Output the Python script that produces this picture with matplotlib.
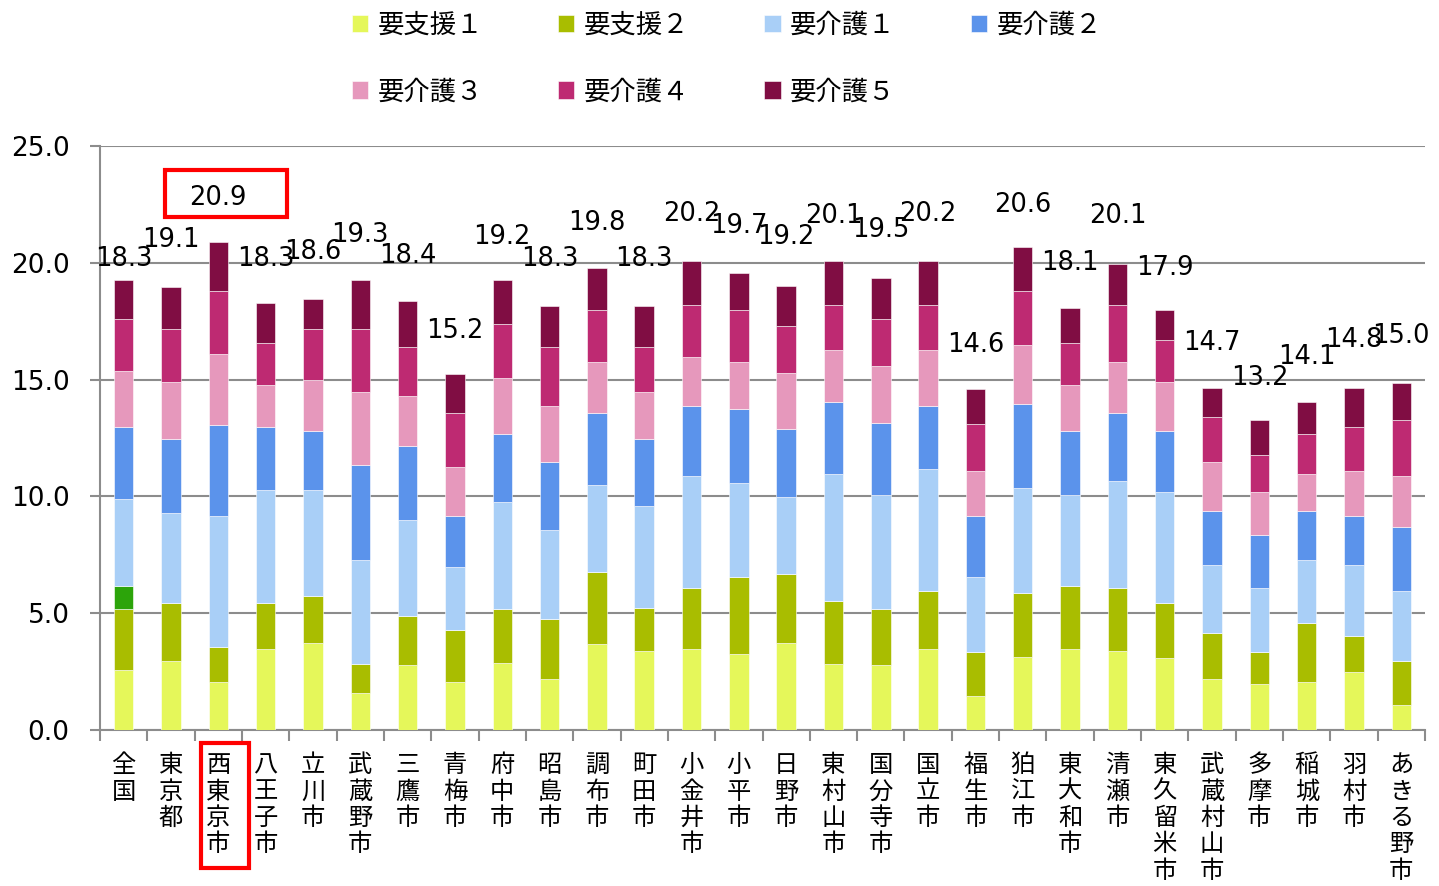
import matplotlib
matplotlib.use("Agg")
import matplotlib.pyplot as plt
import numpy as np
from matplotlib.patches import Rectangle

plt.rcParams['font.family'] = ['DejaVu Sans', 'Noto Sans CJK JP']

categories = ["全国", "東京都", "西東京市", "八王子市", "立川市", "武蔵野市", "三鷹市",
              "青梅市", "府中市", "昭島市", "調布市", "町田市", "小金井市", "小平市",
              "日野市", "東村山市", "国分寺市", "国立市", "福生市", "狛江市", "東大和市",
              "清瀬市", "東久留米市", "武蔵村山市", "多摩市", "稲城市", "羽村市", "あきる野市"]

series_names = ["要支援１", "要支援２", "要介護１", "要介護２", "要介護３", "要介護４", "要介護５"]

shien1 = [2.57, 2.97, 2.07, 3.47, 3.74, 1.57, 2.77, 2.07, 2.87, 2.17, 3.67, 3.37, 3.47, 3.26,
          3.74, 2.84, 2.77, 3.47, 1.47, 3.14, 3.47, 3.37, 3.07, 2.17, 1.97, 2.07, 2.47, 1.07]
shien2 = [2.59, 2.47, 1.47, 1.97, 2.00, 1.27, 2.11, 2.19, 2.29, 2.57, 3.09, 1.87, 2.59, 3.30,
          2.92, 2.70, 2.39, 2.48, 1.87, 2.71, 2.68, 2.69, 2.37, 1.99, 1.37, 2.49, 1.57, 1.87]
# extra highlighted piece shown only on the 全国 bar
shien2_extra = [1.00] + [0.0] * 27
kaigo1 = [3.71, 3.83, 5.63, 4.83, 4.53, 4.44, 4.12, 2.70, 4.61, 3.83, 3.71, 4.33, 4.81, 4.01,
          3.31, 5.43, 4.91, 5.22, 3.22, 4.52, 3.92, 4.61, 4.73, 2.90, 2.72, 2.70, 3.02, 3.02]
kaigo2 = [3.11, 3.20, 3.89, 2.71, 2.51, 4.08, 3.17, 2.21, 2.91, 2.90, 3.11, 2.90, 3.01, 3.17,
          2.91, 3.07, 3.09, 2.71, 2.61, 3.59, 2.71, 2.91, 2.61, 2.31, 2.29, 2.11, 2.11, 2.71]
kaigo3 = [2.40, 2.41, 3.02, 1.80, 2.20, 3.12, 2.11, 2.10, 2.40, 2.41, 2.19, 2.01, 2.09, 2.03,
          2.40, 2.23, 2.42, 2.39, 1.90, 2.51, 2.00, 2.19, 2.10, 2.10, 1.82, 1.60, 1.90, 2.20]
kaigo4 = [2.20, 2.29, 2.72, 1.80, 2.19, 2.69, 2.12, 2.31, 2.30, 2.52, 2.22, 1.92, 2.22, 2.22,
          2.01, 1.92, 2.00, 1.92, 2.01, 2.32, 1.80, 2.42, 1.80, 1.91, 1.60, 1.71, 1.91, 2.41]
kaigo5 = [1.69, 1.80, 2.07, 1.69, 1.30, 2.10, 1.97, 1.68, 1.89, 1.77, 1.78, 1.77, 1.88, 1.58,
          1.70, 1.88, 1.79, 1.88, 1.50, 1.88, 1.49, 1.78, 1.29, 1.28, 1.51, 1.38, 1.68, 1.58]

total_labels = [18.3, 19.1, 20.9, 18.3, 18.6, 19.3, 18.4, 15.2, 19.2, 18.3, 19.8, 18.3, 20.2, 19.7,
                19.2, 20.1, 19.5, 20.2, 14.6, 20.6, 18.1, 20.1, 17.9, 14.7, 13.2, 14.1, 14.8, 15.0]

colors = ["#E5F75A", "#A9BD00", "#A9CFF7", "#5B93EB", "#E698BC", "#BE2A72", "#800D43"]
extra_color = "#2CA40A"

W, H = 1439, 886
fig = plt.figure(figsize=(W / 100, H / 100), dpi=100)
ax = fig.add_axes([100 / W, 1 - 730 / H, 1325 / W, 584 / H])

x = np.arange(len(categories))
bw = 0.41
stack = [(shien1, colors[0], series_names[0]),
         (shien2, colors[1], series_names[1]),
         (shien2_extra, extra_color, None),
         (kaigo1, colors[2], series_names[2]),
         (kaigo2, colors[3], series_names[3]),
         (kaigo3, colors[4], series_names[4]),
         (kaigo4, colors[5], series_names[5]),
         (kaigo5, colors[6], series_names[6])]
bottom = np.zeros(len(categories))
handles = []
for vals, col, name in stack:
    v = np.array(vals)
    b = ax.bar(x, v, bw, bottom=bottom, color=col, edgecolor='white', linewidth=0.4,
               zorder=3, label=name if name else '_nolegend_')
    if name:
        handles.append(b)
    bottom = bottom + v

for i, lab in enumerate(total_labels):
    ax.annotate(f"{lab:.1f}", xy=(x[i], lab), xytext=(0, 44), textcoords='offset pixels',
                ha='center', va='center', fontsize=18.5, color='black', zorder=5,
                annotation_clip=False)

ax.set_xlim(-0.5, len(categories) - 0.5)
ax.set_ylim(0, 25)
ax.set_yticks(np.arange(0, 25.1, 5))
ax.set_yticklabels([f"{v:.1f}" for v in np.arange(0, 25.1, 5)], fontsize=19)
ax.yaxis.grid(True, color='#8C8C8C', linewidth=1.5, zorder=0)
ax.set_axisbelow(True)
ax.tick_params(axis='y', length=7, width=1.5, color='#8C8C8C', pad=15)

ax.set_xticks(x)
ax.set_xticklabels(["\n".join(c) for c in categories], fontsize=17.5,
                   family=['Noto Sans CJK JP'], linespacing=1.02, va='top')
ax.tick_params(axis='x', length=0, pad=16)
ax.set_xticks(np.arange(-0.5, len(categories), 1), minor=True)
ax.tick_params(axis='x', which='minor', length=8, width=1.5, color='#8C8C8C')

for s in ['top', 'right']:
    ax.spines[s].set_visible(False)
for s in ['left', 'bottom']:
    ax.spines[s].set_color('#8C8C8C')
    ax.spines[s].set_linewidth(1.5)

# row-major legend order for a 4-column, 2-row layout
order = [0, 4, 1, 5, 2, 6, 3]
leg = fig.legend(handles=[handles[k] for k in order], labels=[series_names[k] for k in order],
                 loc='upper left', bbox_to_anchor=(328 / W, 1 + 12 / H), ncol=4, frameon=False,
                 prop={'family': ['Noto Sans CJK JP'], 'size': 19},
                 handlelength=0.62, handleheight=0.62, handletextpad=0.35,
                 columnspacing=2.85, labelspacing=1.5)

# red highlight boxes
fig.patches.append(Rectangle((165 / W, 1 - 217 / H), 122 / W, 47 / H, transform=fig.transFigure,
                             fill=False, edgecolor='#FF0000', linewidth=3, zorder=10))
fig.patches.append(Rectangle((201 / W, 1 - 868 / H), 48 / W, 125 / H, transform=fig.transFigure,
                             fill=False, edgecolor='#FF0000', linewidth=3, zorder=10))

fig.savefig("out.png", dpi=100)
